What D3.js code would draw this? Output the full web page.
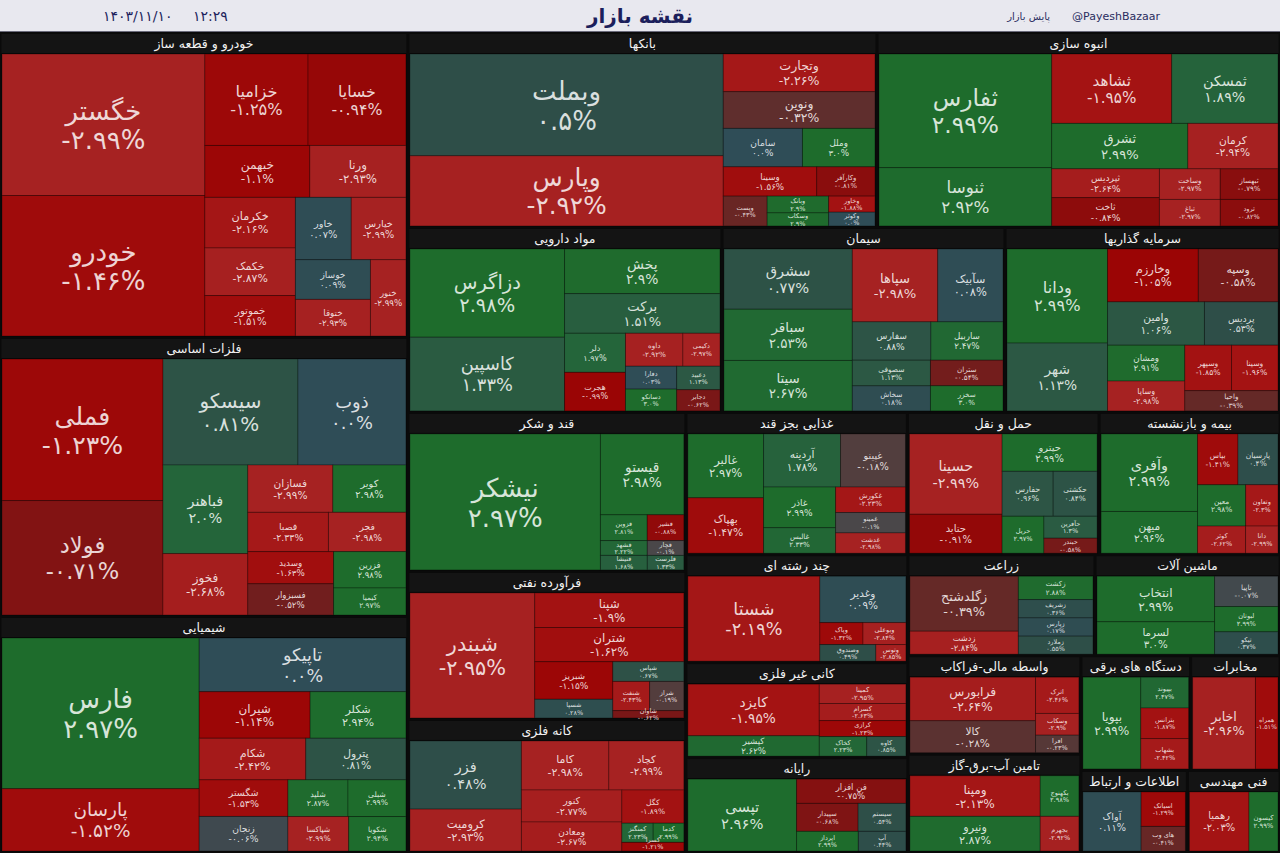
<!DOCTYPE html>
<html><head><meta charset="utf-8">
<script src="https://cdn.jsdelivr.net/npm/d3@7"></script>
<style>
html,body{margin:0;padding:0;background:#0a0a0a;}
svg{display:block;}
</style></head><body>
<svg id="chart" width="1280" height="853"></svg>
<script>
// ---------- texts ----------
const titleText = "نقشه بازار";
const dateText = "۱۴۰۳/۱۱/۱۰";
const timeText = "۱۲:۲۹";
const brandFa = "پایش بازار";
const brandEn = "@PayeshBazaar";

// ---------- stocks per sector: [ticker, weight (market size), change %] ----------
const khodro = [["خگستر",28200,-2.99],["خودرو",28000,-1.46],["خزامیا",9270,-1.25],["خسایا",8800,-0.94],["خبهمن",5350,-1.1],["ورنا",4900,-2.93],["خکرمان",4500,-2.16],["خکمک",4230,-2.87],["خموتور",3600,-1.51],["خاور",3420,0.07],["خپارس",3350,-2.99],["خوساز",2925,0.09],["ختوقا",2700,-2.93],["خنور",2660,-2.99]];
const felezat = [["فملی",22140,-1.23],["فولاد",17900,-0.71],["سیسکو",13900,0.81],["ذوب",11120,0.0],["فباهنر",7300,2.0],["فخوز",5060,-2.68],["فسازان",3910,-2.99],["کویر",3360,2.98],["فصبا",3080,-2.33],["فجر",2960,-2.98],["وسدید",2680,-1.63],["فسبزوار",2600,-0.52],["فزرین",2555,2.98],["کیمیا",1900,2.97]];
const shimi = [["فارس",28800,2.97],["پارسان",11900,-1.52],["تاپیکو",10760,0.0],["شیران",5000,-1.14],["شکلر",4320,2.94],["شکام",4300,-2.42],["پترول",4040,0.81],["شگستر",3150,-1.53],["زنجان",2970,-0.06],["شلید",2135,2.87],["شبلی",2060,2.99],["شپاکسا",2030,-2.99],["شکویا",1914,2.94]];
const bank = [["وبملت",30900,0.5],["وپارس",21300,-2.92],["وتجارت",5540,-2.26],["ونوین",5400,-0.32],["سامان",2950,0.0],["وملل",2700,3.0],["وسینا",2650,-1.56],["وکارآفر",1650,-0.81],["وپست",1270,-0.43],["وبانک",1000,2.9],["وسکاب",780,2.9],["وخاور",720,-1.88],["وکوثر",620,0.0]];
const anboh = [["ثفارس",18980,2.99],["ثنوسا",9740,2.92],["ثشاهد",8050,-1.95],["ثمسکن",7130,1.89],["ثشرق",5980,2.99],["کرمان",3960,-2.94],["ثپردیس",3000,-2.64],["ثاخت",2950,-0.84],["وساخت",1800,-2.97],["ثبهساز",1710,-0.79],["ثباغ",1560,-2.97],["ثرود",1480,-0.82]];
const daru = [["دزاگرس",13400,2.98],["کاسپین",11200,1.33],["پخش",6820,2.9],["برکت",6045,1.51],["دلر",2340,1.97],["هجرت",2310,-0.99],["داوه",1860,-2.92],["دکیمی",1200,-2.97],["دفارا",1150,0.03],["دسانکو",1100,3.0],["دعبید",1000,1.13],["دجابر",900,-0.62]];
const siman = [["سشرق",7700,0.77],["سباقر",6550,2.53],["سیتا",6450,2.67],["سپاها",6200,-2.98],["سآبیک",4735,0.08],["سفارس",3000,0.88],["ساربیل",2750,2.47],["سصوفی",2000,1.13],["سخاش",1950,0.18],["ستران",1850,-0.54],["سخزر",1815,3.0]];
const sarmaye = [["ودانا",9215,2.99],["شهر",6650,1.13],["وخارزم",4680,-1.05],["وسپه",4110,-0.58],["وامین",4085,1.06],["پردیس",3100,0.53],["ومشان",2700,2.91],["وساپا",2250,-2.98],["وسپهر",2070,-1.85],["وسینا",2060,-1.96],["واحیا",1840,-0.39]];
const ghand = [["نیشکر",25800,2.97],["قیستو",6720,2.98],["قزوین",1200,2.81],["قشیر",940,-0.88],["قشهد",690,2.22],["قنیشا",680,1.68],["قچار",540,-0.1],["قلرست",530,1.33]];
const naft = [["شبندر",15600,-2.95],["شپنا",5150,-1.9],["شتران",5100,-1.62],["شبریز",2930,-1.15],["شسپا",1460,0.28],["شپاس",1400,0.67],["شنفت",1075,-2.43],["شراز",1000,-0.19],["شاوان",520,-0.62]];
const kane = [["فزر",7085,0.48],["کرومیت",4360,-2.93],["کاما",4000,-2.98],["کچاد",3430,-2.99],["کنور",3000,-2.77],["ومعادن",2720,-2.67],["کگل",1920,-1.89],["کمنگنز",560,2.23],["کدما",550,2.99],["کسرا",500,-1.21]];
const ghaza = [["غالبر",4615,2.97],["بهپاک",4000,-1.47],["آردینه",3900,1.78],["غپینو",3290,-0.18],["غاذر",2800,2.99],["غالبس",1750,2.33],["غکورش",1700,-2.23],["غمینو",1360,-0.1],["غدشت",1350,-2.98]];
const haml = [["حسینا",7460,-2.99],["حتاید",3620,-0.91],["حپترو",3560,2.99],["حفارس",2300,0.96],["حکشتی",1980,0.84],["حریل",1550,2.97],["حآفرین",1170,1.3],["حبندر",800,-0.58]];
const bime = [["وآفری",7570,2.99],["میهن",4070,2.96],["بپاس",2080,-1.41],["پارسیان",2060,0.4],["معین",2010,2.98],["وتعاون",1350,-2.3],["کوثر",1320,-2.62],["دانا",890,-2.99]];
const chand = [["شستا",11480,-2.19],["وغدیر",4090,0.09],["وپاک",970,-1.32],["وبوعلی",965,-2.84],["وصندوق",950,0.49],["وتوس",510,-2.85]];
const kani = [["کایزد",6875,-1.95],["کپشیر",2700,2.62],["کمینا",1700,-2.95],["کسرام",1500,-2.63],["کرازی",1400,-1.23],["کخاک",940,2.23],["کاوه",775,0.85]];
const rayane = [["تپسی",7600,2.96],["فن افزار",2580,-0.75],["سپیدار",1670,-0.68],["سیستم",1300,0.54],["اپرداز",1180,2.99],["آپ",910,0.44]];
const zeraat = [["زگلدشتح",5885,-0.39],["زدشت",2460,-2.84],["زکشت",1725,2.88],["زشریف",1350,0.36],["زپارس",1340,0.17],["زملارد",1330,0.55]];
const mashin = [["انتخاب",5265,2.99],["لسرما",3740,3.0],["تاپیا",1890,-0.07],["لبوتان",1575,2.99],["تیکو",1390,0.37]];
const vasete = [["فرابورس",5535,-2.64],["کالا",4060,-0.28],["اترک",1590,-2.46],["وسکاب",950,-2.9],["افرا",770,-0.23]];
const tamin = [["ومپنا",5250,-2.13],["ونیرو",4480,2.87],["بکهنوج",1560,2.98],["بجهرم",1330,-2.92]];
const barghi = [["بپویا",4540,2.99],["بپیوند",1260,2.47],["بترانس",1250,-1.87],["بشهاب",1240,-2.42]];
const mokhaberat = [["اخابر",5850,-2.96],["همراه",2100,-1.51]];
const etelaat = [["آواک",3600,0.11],["اسیاتک",1600,-1.29],["های وب",1140,-0.41]];
const fanni = [["رهمیا",2800,-2.03],["کیسون",1365,2.99]];

// ---------- sectors ----------
const sectorNames = ["خودرو و قطعه ساز","فلزات اساسی","شیمیایی","بانکها","انبوه سازی","مواد دارویی","سیمان","سرمایه گذاریها","قند و شکر","فرآورده نفتی","کانه فلزی","غذایی بجز قند","حمل و نقل","بیمه و بازنشسته","چند رشته ای","کانی غیر فلزی","رایانه","زراعت","ماشین آلات","واسطه مالی-فراکاب","تامین آب-برق-گاز","دستگاه های برقی","مخابرات","اطلاعات و ارتباط","فنی مهندسی"];
const sectorWeights = [124440,113830,96290,91455,78585,58090,52355,50875,44200,41145,36975,31525,27265,25740,23975,21090,21080,18890,18685,17050,17000,12600,10260,8740,7600];
const sectorStocks = [khodro,felezat,shimi,bank,anboh,daru,siman,sarmaye,ghand,naft,kane,ghaza,haml,bime,chand,kani,rayane,zeraat,mashin,vasete,tamin,barghi,mokhaberat,etelaat,fanni];

// ---------- drawing ----------
const W = 1280, H = 853, TOP = 33;
const FONT = "DejaVu Sans, sans-serif";
const svg = d3.select("#chart");
const faDigits = s => String(s).replace(/\d/g, d => "۰۱۲۳۴۵۶۷۸۹"[d]);
const fmtPct = v => {
  const s = (Math.round(Math.abs(v) * 100) % 10 === 0) ? v.toFixed(1) : v.toFixed(2);
  return faDigits(s === "-0.0" ? "0.0" : s) + "%";
};
const color = d3.scaleLinear()
  .domain([-3, -2, -1, -0.6, -0.3, -0.1, 0, 0.5, 1, 2, 3])
  .range(["#a62222", "#a41414", "#9b0404", "#781818", "#5d302e", "#4a4749", "#2f4d57", "#2e4e48", "#2d5645", "#24653a", "#1e6c2c"])
  .clamp(true);

svg.append("rect").attr("x", 0).attr("y", 0).attr("width", W).attr("height", H).attr("fill", "#0a0a0a");

// top bar
svg.append("rect").attr("x", 0).attr("y", 0).attr("width", W).attr("height", 31).attr("fill", "#e8e8ef");
svg.append("line").attr("x1", 0).attr("x2", W).attr("y1", 31.5).attr("y2", 31.5).attr("stroke", "#6a6a7a").attr("stroke-width", 1);
svg.append("text").attr("x", 640).attr("y", 23).attr("text-anchor", "middle")
  .attr("font-family", FONT).attr("font-weight", "bold").attr("font-size", 20).attr("fill", "#1c1f5c").text(titleText);
svg.append("text").attr("x", 103).attr("y", 21).attr("font-family", FONT).attr("font-size", 14).attr("fill", "#1c1f5c").text(dateText);
svg.append("text").attr("x", 193).attr("y", 21).attr("font-family", FONT).attr("font-size", 14).attr("fill", "#1c1f5c").text(timeText);
svg.append("text").attr("x", 1160).attr("y", 20).attr("text-anchor", "end").attr("font-family", FONT).attr("font-size", 11).attr("fill", "#2a2d60").text(brandEn);
svg.append("text").attr("x", 1050).attr("y", 20).attr("text-anchor", "end").attr("font-family", FONT).attr("font-size", 10).attr("fill", "#2a2d60").text(brandFa);

// top-level layout (computed in a square, then stretched)
const root = d3.hierarchy({ children: sectorNames.map((n, i) => ({ name: n, value: sectorWeights[i], stocks: sectorStocks[i] })) })
  .sum(d => d.value || 0)
  .sort((a, b) => b.value - a.value);
d3.treemap().size([1000, 1000]).tile(d3.treemapSquarify.ratio(1))(root);
const xS = d3.scaleLinear().domain([0, 1000]).range([0, W]);
const yS = d3.scaleLinear().domain([0, 1000]).range([TOP, H]);

const HEADER = 19;
root.leaves().forEach(sec => {
  const sx0 = xS(sec.x0), sx1 = xS(sec.x1), sy0 = yS(sec.y0), sy1 = yS(sec.y1);
  const g = svg.append("g");
  g.append("rect").attr("x", sx0 + 1.5).attr("y", sy0 + 1).attr("width", sx1 - sx0 - 3).attr("height", HEADER)
    .attr("fill", "#141414");
  g.append("text").attr("x", (sx0 + sx1) / 2).attr("y", sy0 + 1 + HEADER / 2).attr("dy", "0.36em")
    .attr("text-anchor", "middle").attr("font-family", FONT).attr("font-size", 12.5).attr("fill", "#f2f2f2")
    .text(sec.data.name);

  const ix0 = sx0 + 2, ix1 = sx1 - 2, iy0 = sy0 + HEADER + 2, iy1 = sy1 - 2;
  const sub = d3.hierarchy({ children: sec.data.stocks.map(s => ({ name: s[0], value: s[1], chg: s[2] })) })
    .sum(d => d.value || 0)
    .sort((a, b) => b.value - a.value);
  d3.treemap().size([1000, 1000]).tile(d3.treemapSquarify.ratio(1))(sub);
  const cx = d3.scaleLinear().domain([0, 1000]).range([ix0, ix1]);
  const cy = d3.scaleLinear().domain([0, 1000]).range([iy0, iy1]);

  const cells = g.selectAll("g.cell").data(sub.leaves()).join("g").attr("class", "cell");
  cells.append("rect")
    .attr("x", d => cx(d.x0)).attr("y", d => cy(d.y0))
    .attr("width", d => cx(d.x1) - cx(d.x0)).attr("height", d => cy(d.y1) - cy(d.y0))
    .attr("fill", d => color(d.data.chg))
    .attr("stroke", "rgba(0,0,0,0.28)").attr("stroke-width", 1);

  cells.each(function (d) {
    const w = cx(d.x1) - cx(d.x0), h = cy(d.y1) - cy(d.y0);
    const mx = (cx(d.x0) + cx(d.x1)) / 2;
    let my = (cy(d.y0) + cy(d.y1)) / 2;
    let fs = Math.max(6.5, Math.min(26, Math.sqrt(w * h) / 6, h / 2.3));
    const tc = d3.interpolateRgb(color(d.data.chg), "#ffffff")(0.82);
    const sel = d3.select(this);
    const t1 = sel.append("text").attr("text-anchor", "middle").attr("font-family", FONT).attr("fill", tc).text(d.data.name);
    const t2 = sel.append("text").attr("text-anchor", "middle").attr("font-family", FONT).attr("fill", tc).text(fmtPct(d.data.chg));
    t1.attr("font-size", fs); t2.attr("font-size", fs);
    const maxW = Math.max(t1.node().getComputedTextLength(), t2.node().getComputedTextLength());
    if (maxW > w * 0.9) fs = Math.max(6, fs * w * 0.9 / maxW);
    // keep the two lines inside the picture
    const bottom = my + 0.6 * fs + 0.75 * fs;
    if (bottom > H - 1) my -= bottom - (H - 1);
    t1.attr("font-size", fs).attr("x", mx).attr("y", my - 0.55 * fs).attr("dy", "0.35em");
    t2.attr("font-size", fs).attr("x", mx).attr("y", my + 0.6 * fs).attr("dy", "0.35em");
  });
});
</script>
</body></html>
